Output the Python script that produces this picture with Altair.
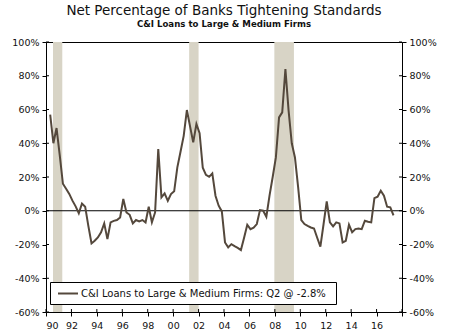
import altair as alt
import pandas as pd

# ---- data ----
start_year, start_q = 1990, 2
values = [
    57, 40, 49,                    # 1990 Q2-Q4
    33, 16, 13, 10,                # 1991
    6, 2.6, -1.5, 4.3,             # 1992
    2.4, -9, -19.4, -17.8,         # 1993
    -15.8, -12.8, -7.5, -16.8,     # 1994
    -6.9, -6, -5.5, -4,            # 1995
    7, -1, -2.4, -7.5,             # 1996
    -5.5, -6.3, -5.5, -6.9,        # 1997
    2.4, -6.9, -1, 36.5,           # 1998
    7.9, 10.3, 5.9, 9.9,           # 1999
    11.5, 25.7, 35, 44.4,          # 2000
    59.7, 50, 40.5, 51.4,          # 2001
    46, 25.5, 21.3, 20.1,          # 2002
    22.1, 8.9, 3, -0.4,            # 2003
    -18.8, -21.7, -19.8, -21,      # 2004
    -22, -23.3, -16, -8.3,         # 2005
    -10.9, -10, -7.9, 0.4,         # 2006
    0, -3.6, 9, 20,                # 2007
    31.6, 55.3, 58.3, 84,          # 2008
    59.3, 40, 31.6, 14,            # 2009
    -5.5, -7.9, -9, -9.9,          # 2010
    -10.5, -16, -21.3, -8,         # 2011
    5.5, -6.9, -9.3, -6.9,         # 2012
    -7.5, -18.8, -17.8, -8.3,      # 2013
    -12.8, -10.9, -10.5, -10.9,    # 2014
    -5.9, -6.5, -6.9, 7.5,         # 2015
    8.3, 11.9, 8.9, 2.4,           # 2016
    2, -2.8,                       # 2017 Q1-Q2
]
rec_start = [1990.55, 2001.26, 2007.96]
rec_end = [1991.28, 2002.0, 2009.5]
x_ticks = list(range(1990, 2019, 2))
y_ticks = [-60, -40, -20, 0, 20, 40, 60, 80, 100]
series_name = "C&I Loans to Large & Medium Firms: Q2 @ -2.8%"
title_text = "Net Percentage of Banks Tightening Standards"
subtitle_text = "C&I Loans to Large & Medium Firms"

# survey month offset inside each quarter
dates = []
for i in range(len(values)):
    qi = (start_q - 1) + i
    dates.append(start_year + qi // 4 + (qi % 4) / 4 + 0.08)
df = pd.DataFrame({"t": dates, "v": values})
rec = pd.DataFrame({"s": rec_start, "e": rec_end})
leg = pd.DataFrame({"label": [series_name]})
xt = pd.DataFrame({"xt": x_ticks})
yt = pd.DataFrame({"yt": y_ticks})

FONT = "DejaVu Sans"
LINE = "#54483c"
BAND = "#d8d4c6"
W, H = 356, 270

xscale = alt.Scale(domain=[1990, 2018], nice=False, zero=False)
yscale = alt.Scale(domain=[-60, 100], nice=False, zero=False)

xaxis = alt.Axis(values=x_ticks, format="d",
                 labelExpr="datum.value >= 2018 ? '' : slice(datum.label, 2)",
                 title=None, grid=False, tickSize=4, labelPadding=4,
                 domainColor="black", tickColor="black", labelColor="#111",
                 labelFont=FONT, labelFontSize=9.5)

def yaxis(orient):
    return alt.Axis(values=y_ticks, orient=orient, title=None, grid=False,
                    labelExpr="datum.value + '%'", tickSize=4, labelPadding=3,
                    domainColor="black", tickColor="black", labelColor="#111",
                    labelFont=FONT, labelFontSize=9.5)

bands = alt.Chart(rec).mark_rect(color=BAND).encode(
    x=alt.X("s:Q", scale=xscale, axis=xaxis),
    x2="e:Q",
)

zero = alt.Chart(pd.DataFrame({"z": [0]})).mark_rule(color="black", strokeWidth=1).encode(
    y=alt.Y("z:Q", scale=yscale, axis=yaxis("left"))
)

# inner halves of the crossing tick marks
in_left = alt.Chart(yt).mark_rule(color="black", strokeWidth=1).encode(
    y=alt.Y("yt:Q", scale=yscale, axis=yaxis("left")), x=alt.value(0), x2=alt.value(3)
)
in_right = alt.Chart(yt).mark_rule(color="black", strokeWidth=1).encode(
    y=alt.Y("yt:Q", scale=yscale, axis=yaxis("left")), x=alt.value(W - 3), x2=alt.value(W)
)
in_bottom = alt.Chart(xt).mark_rule(color="black", strokeWidth=1).encode(
    x=alt.X("xt:Q", scale=xscale, axis=xaxis), y=alt.value(H - 3), y2=alt.value(H)
)

line = alt.Chart(df).mark_line(color=LINE, strokeWidth=2).encode(
    x=alt.X("t:Q", scale=xscale, axis=xaxis),
    y=alt.Y("v:Q", scale=yscale, axis=yaxis("left")),
)

right = alt.Chart(df).mark_line(opacity=0).encode(
    x=alt.X("t:Q", scale=xscale, axis=xaxis),
    y=alt.Y("v:Q", scale=yscale, axis=yaxis("right")),
)

leg_box = alt.Chart(leg).mark_rect(fill="white", stroke="black", strokeWidth=1).encode(
    x=alt.value(4.5), x2=alt.value(290.5), y=alt.value(240.5), y2=alt.value(262.5)
)
leg_line = alt.Chart(leg).mark_rule(color=LINE, strokeWidth=2).encode(
    x=alt.value(12), x2=alt.value(32), y=alt.value(251.5)
)
leg_text = alt.Chart(leg).mark_text(align="left", baseline="middle", font=FONT,
                                    fontSize=10, color="#111").encode(
    x=alt.value(35), y=alt.value(252), text="label:N"
)

left_layer = alt.layer(bands, zero, in_left, in_right, in_bottom, line,
                       leg_box, leg_line, leg_text)
chart = alt.layer(left_layer, right).resolve_scale(y="independent").properties(
    width=W, height=H,
    autosize=alt.AutoSizeParams(type="none"),
    padding={"left": 46, "top": 42, "right": 48, "bottom": 24},
    title=alt.TitleParams(text=title_text, subtitle=subtitle_text,
                          font=FONT, fontSize=13.5, fontWeight="normal", color="#111",
                          subtitleFont=FONT, subtitleFontSize=8.6, subtitleFontWeight="bold",
                          subtitleColor="#111", subtitlePadding=3, offset=8, anchor="middle"),
).configure_view(stroke="black", strokeWidth=1)

chart.save("out.html", embed_options={"renderer": "svg", "actions": False})
